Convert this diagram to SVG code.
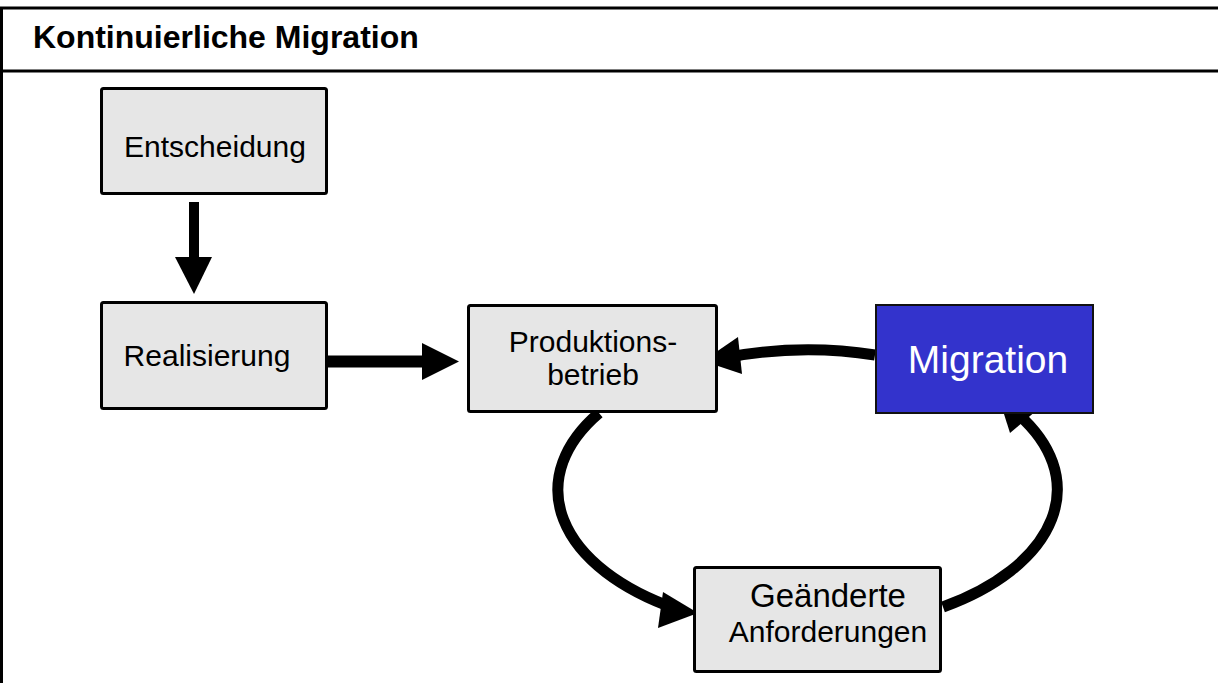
<svg xmlns="http://www.w3.org/2000/svg" width="1218" height="683" viewBox="0 0 1218 683">
  <style>
    .frame { stroke: #000; stroke-width: 3; fill: none; }
    .box { fill: #e6e6e6; stroke: #000; stroke-width: 3; }
    .mig { fill: #3333cc; stroke: #111; stroke-width: 2; }
    .lbl { font-family: "Liberation Sans", Arial, sans-serif; font-size: 30px; fill: #000; text-anchor: middle; }
    .title { font-family: "Liberation Sans", Arial, sans-serif; font-size: 32px; font-weight: bold; fill: #000; }
    .shaft { stroke: #000; fill: none; }
    .curve { stroke: #000; stroke-width: 11; fill: none; }
    .head { fill: #000; stroke: none; }
  </style>
  <rect x="0" y="0" width="1218" height="683" fill="#fff"/>
  <g id="frame">
    <line class="frame" x1="0" y1="8" x2="1218" y2="8"/>
    <line class="frame" x1="0" y1="71" x2="1218" y2="71"/>
    <line class="frame" x1="1.5" y1="7" x2="1.5" y2="683"/>
    <text class="title" x="33" y="48">Kontinuierliche Migration</text>
  </g>
  <g id="connectors">
    <line class="shaft" x1="194" y1="202" x2="194" y2="259" stroke-width="10"/>
    <polygon class="head" points="175,257 212,257 194,294"/>
    <line class="shaft" x1="328" y1="361.5" x2="424" y2="361.5" stroke-width="12"/>
    <polygon class="head" points="422,343 459,361.5 422,380"/>
    <path class="curve" d="M 875 355 A 250 140 0 0 0 730 357"/>
    <polygon class="head" points="703,361 738,337 742,374"/>
    <path class="curve" d="M 599 413 A 250 140 0 0 0 675.5 608.7"/>
    <polygon class="head" points="698,613 663,592 658,628"/>
    <path class="curve" d="M 943 607 A 250 140 0 0 0 1017.7 413.8"/>
    <polygon class="head" points="998,395 1037,410 1010,433"/>
  </g>
  <g id="node-entscheidung">
    <rect class="box" x="101.5" y="88.5" width="225" height="105" rx="2"/>
    <text class="lbl" x="215" y="157">Entscheidung</text>
  </g>
  <g id="node-realisierung">
    <rect class="box" x="101.5" y="302.5" width="225" height="106" rx="2"/>
    <text class="lbl" x="207" y="366">Realisierung</text>
  </g>
  <g id="node-produktionsbetrieb">
    <rect class="box" x="468.5" y="305.5" width="248" height="106" rx="2"/>
    <text class="lbl" x="593" y="352">Produktions-</text>
    <text class="lbl" x="593" y="385">betrieb</text>
  </g>
  <g id="node-migration">
    <rect class="mig" x="876" y="305" width="217" height="108"/>
    <text class="lbl" x="988" y="373" style="font-size:39px;fill:#fff">Migration</text>
  </g>
  <g id="node-geaenderte-anforderungen">
    <rect class="box" x="694.5" y="567.5" width="246" height="104" rx="2"/>
    <text class="lbl" x="828" y="607" style="font-size:33px">Geänderte</text>
    <text class="lbl" x="828" y="642">Anforderungen</text>
  </g>
</svg>
